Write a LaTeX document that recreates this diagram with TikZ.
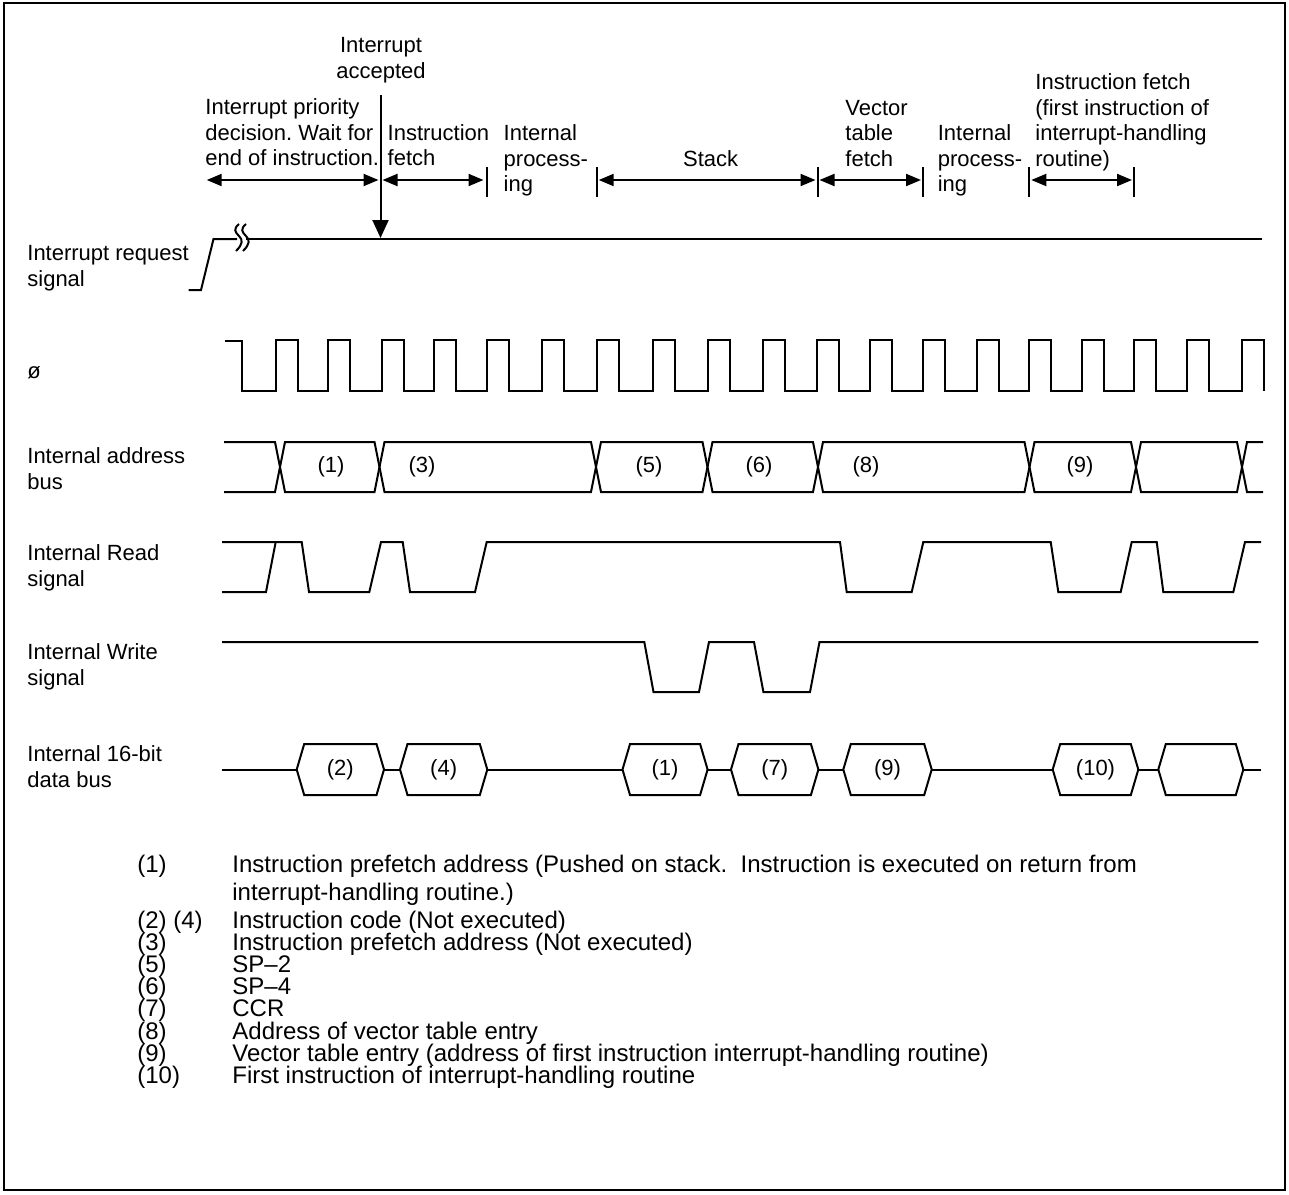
\documentclass[tikz,border=0pt]{standalone}
\usepackage{fontspec}
\setmainfont{Liberation Sans}
\frenchspacing
\usetikzlibrary{arrows.meta}
\tikzset{
  sig/.style={line width=1pt},
  lbl/.style={font=\fontsize{11}{12.75}\selectfont, inner sep=0pt, anchor=base west, align=left},
  note/.style={font=\fontsize{12}{14}\selectfont, inner sep=0pt, anchor=base west},
  busnum/.style={font=\fontsize{11}{13}\selectfont, inner sep=0pt, anchor=center},
  span/.style={line width=1pt, {Triangle[length=7.5pt,width=6pt]}-{Triangle[length=7.5pt,width=6pt]}}
}
\begin{document}
\begin{tikzpicture}[x=0.5pt,y=-0.5pt]
\useasboundingbox (0,0) rectangle (1289,1194);
\draw[line width=1.25pt] (4,3) rectangle (1285,1190);

% phase labels (base = last line)
\node[lbl, align=center, anchor=base] (acc) at (381,78.3) {Interrupt\\accepted};
\node[lbl] (prio) at (205,165.7) {Interrupt priority\\decision. Wait for\\end of instruction.};
\node[lbl] (ifetch) at (387.3,165.7) {Instruction\\fetch};
\node[lbl] (proc1) at (503.3,191.7) {Internal\\process-\\ing};
\node[lbl, anchor=base] (stack) at (710.6,166) {Stack};
\node[lbl] (vfetch) at (845,166) {Vector\\table\\fetch};
\node[lbl] (proc2) at (937.4,191.7) {Internal\\process-\\ing};
\node[lbl] (first) at (1035,166) {Instruction fetch\\(first instruction of\\interrupt-handling\\routine)};

% separators and spans
\foreach \n/\t in {a/486.5, b/596.7, c/817.5, d/923, e/1029.3, f/1134} {
  \coordinate (t\n) at (\t,180);
  \draw[sig] (\t,167) -- (\t,197);
}
\coordinate (lft) at (206.7,180);
\coordinate (acx) at (380.5,180);
\draw[span] (lft) -- ([xshift=-1pt]acx);
\draw[span] ([xshift=1pt]acx) -- ([xshift=-1.5pt]ta);
\draw[span] ([xshift=1pt]tb) -- ([xshift=-1pt]tc);
\draw[span] ([xshift=1pt]tc) -- ([xshift=-1pt]td);
\draw[span] ([xshift=1pt]te) -- ([xshift=-1pt]tf);

\coordinate (acctop) at (380.5,95);
\coordinate (acctip) at (380.5,238);
\draw[sig, -{Triangle[length=9pt,width=8pt]}] (acctop) -- (acctip);

% signal names
\node[lbl] (irq) at (27,286) {Interrupt request\\signal};
\node[lbl] (phi) at (27,378) {ø};
\node[lbl] (abus) at (27,489) {Internal address\\bus};
\node[lbl] (rd) at (27,586) {Internal Read\\signal};
\node[lbl] (wr) at (27,685) {Internal Write\\signal};
\node[lbl] (dbus) at (27,787) {Internal 16-bit\\data bus};

% interrupt request
\draw[sig] (188.6,290) -- (201,290) -- (213.5,239) -- (237,239);
\draw[sig] (246,239) -- (1262,239);
\draw[sig] (239,224) .. controls (233,229) and (235,232) .. (239,236)
  .. controls (243,240) and (243,244) .. (236,251);
\draw[sig] (246,224) .. controls (240,229) and (242,232) .. (246,236)
  .. controls (250,240) and (250,244) .. (243,251);

% clock
\draw[sig] (225,341) -- (241.7,341) -- (241.7,391)
  foreach \r in {275.7,328.3,381.7,434,486.7,541.7,597.3,652.7,707.6,762.6,
                 817.3,870,923.3,976.7,1029.3,1081.7,1134,1187.3,1241.7}
  { -- (\r,391) -- (\r,340) -- (\r+22,340) -- (\r+22,391) };

% address bus
\draw[sig] (224,442)
  foreach \c/\ya/\yb in {280/442/492, 379.5/492/442, 596/442/492, 707.5/492/442,
                         818/442/492, 1029.5/492/442, 1136/442/492, 1242/492/442}
  { -- (\c-5,\ya) -- (\c+5,\yb) } -- (1263,442);
\draw[sig] (224,492)
  foreach \c/\ya/\yb in {280/492/442, 379.5/442/492, 596/492/442, 707.5/442/492,
                         818/492/442, 1029.5/442/492, 1136/492/442, 1242/442/492}
  { -- (\c-5,\ya) -- (\c+5,\yb) } -- (1263,492);
\node[busnum] (a1) at (331,467) {(1)};
\node[busnum] (a3) at (422,467) {(3)};
\node[busnum] (a5) at (649,467) {(5)};
\node[busnum] (a6) at (759,467) {(6)};
\node[busnum] (a8) at (866,467) {(8)};
\node[busnum] (a9) at (1080,467) {(9)};

% read
\draw[sig] (222,542) -- (301.7,542) -- (309,592) -- (369.3,592) -- (381,542)
  -- (402.7,542) -- (410,592) -- (475,592) -- (486.7,542) -- (840,542)
  -- (846.7,592) -- (911.7,592) -- (923.3,542) -- (1050.7,542) -- (1058.3,592)
  -- (1120.7,592) -- (1131.7,542) -- (1156.7,542) -- (1163.3,592) -- (1233.3,592)
  -- (1245,542) -- (1261,542);
\draw[sig] (222,592) -- (266,592) -- (275.7,542);

% write
\draw[sig] (222,642) -- (644.3,642) -- (653.5,692) -- (699,692) -- (709,642)
  -- (754,642) -- (763.4,692) -- (810,692) -- (819.5,642) -- (1258.3,642);

% data bus
\foreach \l/\r/\t [count=\i] in {296.7/384/(2), 400/487.3/(4), 622.5/707.6/(1),
    731/818.4/(7), 843.3/931.7/(9), 1052.7/1138.3/(10), 1158.3/1243.3/{}} {
  \draw[sig] (\l,769.5) -- (\l+7.5,744) -- (\r-7.5,744) -- (\r,769.5)
    -- (\r-7.5,795) -- (\l+7.5,795) -- cycle;
  \node[busnum] (d\i) at ({(\l+\r)/2},769.5) {\t};
}
\foreach \a/\b in {221.7/296.7, 384/400, 487.3/622.5, 707.6/731, 818.4/843.3,
                   931.7/1052.7, 1138.3/1158.3, 1243.3/1260.7}
  \draw[sig] (\a,769.5) -- (\b,769.5);

% legend
\node[note] (n1) at (137,872) {(1)};
\node[note] (l1) at (232,872) {Instruction prefetch address (Pushed on stack.\ \ Instruction is executed on return from};
\node[note] (l1b) at (232,900) {interrupt-handling routine.)};
\node[note] (n2) at (137,928) {(2) (4)};
\node[note] (l2) at (232,928) {Instruction code (Not executed)};
\node[note] (n3) at (137,950) {(3)};
\node[note] (l3) at (232,950) {Instruction prefetch address (Not executed)};
\node[note] (n5) at (137,972) {(5)};
\node[note] (l5) at (232,972) {SP–2};
\node[note] (n6) at (137,994) {(6)};
\node[note] (l6) at (232,994) {SP–4};
\node[note] (n7) at (137,1016) {(7)};
\node[note] (l7) at (232,1016) {CCR};
\node[note] (n8) at (137,1039) {(8)};
\node[note] (l8) at (232,1039) {Address of vector table entry};
\node[note] (n9) at (137,1061) {(9)};
\node[note] (l9) at (232,1061) {Vector table entry (address of first instruction interrupt-handling routine)};
\node[note] (n10) at (137,1083) {(10)};
\node[note] (l10) at (232,1083) {First instruction of interrupt-handling routine};
\end{tikzpicture}
\end{document}
